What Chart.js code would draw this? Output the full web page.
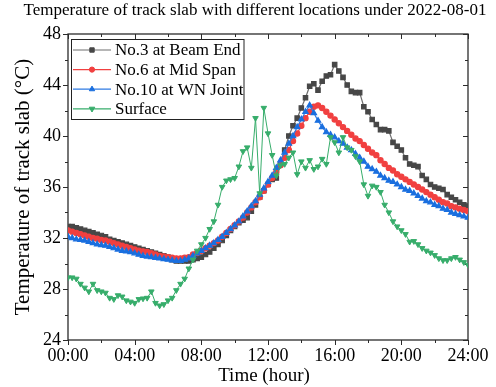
<!DOCTYPE html>
<html>
<head>
<meta charset="utf-8">
<script src="https://cdn.jsdelivr.net/npm/chart.js@4.4.1/dist/chart.umd.min.js"></script>
<style>
  html, body { margin: 0; background: #fff; }
</style>
</head>
<body>
<canvas id="slabChart" width="496" height="387"></canvas>
<script>
// sample times, hours after midnight (15 min logging interval)
const hours = [0,0.25,0.5,0.75,1,1.25,1.5,1.75,2,2.25,2.5,2.75,3,3.25,3.5,3.75,
  4,4.25,4.5,4.75,5,5.25,5.5,5.75,6,6.25,6.5,6.75,7,7.25,7.5,7.75,
  8,8.25,8.5,8.75,9,9.25,9.5,9.75,10,10.25,10.5,10.75,11,11.25,11.5,11.75,
  12,12.25,12.5,12.75,13,13.25,13.5,13.75,14,14.25,14.5,14.75,15,15.25,15.5,15.75,
  16,16.25,16.5,16.75,17,17.25,17.5,17.75,18,18.25,18.5,18.75,19,19.25,19.5,19.75,
  20,20.25,20.5,20.75,21,21.25,21.5,21.75,22,22.25,22.5,22.75,23,23.25,23.5,23.75,24];

// slab temperatures (°C)
const beamEnd = [32.9,32.9,32.8,32.7,32.6,32.5,32.4,32.3,
  32.2,32.1,31.9,31.8,31.7,31.6,31.5,31.4,
  31.3,31.2,31.1,31.0,30.9,30.8,30.7,30.6,
  30.5,30.3,30.2,30.2,30.2,30.2,30.3,30.4,
  30.5,30.7,30.9,31.2,31.5,31.8,32.2,32.6,
  32.9,33.2,33.4,33.6,34.1,34.6,35.2,35.7,
  36.2,36.6,36.7,37.8,38.9,40.0,40.8,41.4,
  42.2,43.0,43.9,44.1,43.6,44.3,44.7,44.8,
  45.6,45.1,44.6,44.0,43.5,43.4,43.4,42.3,
  41.9,41.3,40.9,40.5,40.5,40.4,39.5,39.2,
  38.9,38.3,37.8,37.7,37.6,36.9,36.6,36.2,
  36.0,35.9,35.8,35.4,35.2,35.0,34.8,34.6,
  34.5];

const midSpan = [32.6,32.5,32.4,32.3,32.2,32.1,32.0,31.95,
  31.85,31.8,31.7,31.6,31.5,31.4,31.3,31.2,
  31.1,31.0,30.95,30.9,30.8,30.7,30.6,30.55,
  30.5,30.45,30.4,30.4,30.45,30.5,30.7,30.85,
  31.0,31.2,31.4,31.6,31.8,32.1,32.4,32.7,
  33.0,33.3,33.6,34.0,34.4,34.8,35.2,35.7,
  36.2,36.7,37.2,37.7,38.3,38.9,39.6,40.2,
  40.8,41.4,41.9,42.3,42.4,42.2,41.9,41.6,
  41.3,41.0,40.7,40.4,40.1,39.8,39.6,39.3,
  39.0,38.7,38.5,38.1,37.8,37.5,37.3,37.0,
  36.8,36.6,36.4,36.2,36.0,35.8,35.6,35.4,
  35.2,35.0,34.8,34.7,34.5,34.4,34.3,34.2,
  34.1];

const wnJoint = [32.1,32.0,31.9,31.85,31.8,31.7,31.6,31.5,
  31.45,31.4,31.3,31.2,31.1,31.0,30.95,30.9,
  30.8,30.7,30.6,30.55,30.5,30.45,30.4,30.35,
  30.3,30.25,30.2,30.2,30.3,30.4,30.6,30.8,
  31.0,31.2,31.4,31.6,31.85,32.1,32.4,32.7,
  33.0,33.3,33.7,34.1,34.5,34.9,35.4,35.9,
  36.4,36.9,37.5,38.1,38.7,39.4,40.0,40.7,
  41.3,41.9,42.4,41.8,41.2,40.7,40.3,40.1,
  39.9,39.6,39.4,39.1,38.9,38.6,38.3,38.0,
  37.6,37.4,37.2,36.9,36.7,36.5,36.4,36.2,
  36.0,35.8,35.7,35.5,35.3,35.1,34.9,34.8,
  34.6,34.5,34.3,34.2,34.0,33.9,33.8,33.7,
  33.6];

const surface = [28.9,28.9,28.8,28.4,28.1,27.8,28.4,27.9,
  27.8,27.7,27.3,27.2,27.5,27.4,27.1,27.0,
  26.9,27.2,27.25,27.3,27.8,26.9,26.7,26.8,
  27.1,27.3,27.9,28.4,28.8,29.6,30.3,31.0,
  31.5,32.0,32.7,33.3,34.6,36.0,36.5,36.6,
  36.7,37.6,38.8,39.1,37.5,41.4,35.5,42.2,
  40.2,38.5,36.9,37.7,37.8,38.3,38.7,37.0,
  38.0,37.5,38.1,37.4,37.6,38.2,37.8,39.9,
  39.5,38.7,39.9,39.1,38.9,38.4,38.0,36.2,
  35.3,36.1,36.0,35.6,34.6,34.0,33.3,32.9,
  32.6,32.3,31.7,31.75,31.5,31.2,31.0,30.85,
  30.65,30.4,30.25,30.25,30.4,30.5,30.3,30.1,
  29.9];

const seriesNames = ['No.3 at Beam End', 'No.6 at Mid Span', 'No.10 at WN Joint', 'Surface'];
const xTicks = [0, 4, 8, 12, 16, 20, 24];
const yTicks = [24, 28, 32, 36, 40, 44, 48];

const FONT = "'Liberation Serif', 'Times New Roman', serif";

function toPoints(values) {
    return values.map((v, i) => ({ x: hours[i], y: v }));
}

function hhmm(v) {
    return String(v).padStart(2, '0') + ':00';
}

function tickLine(ctx, x1, y1, x2, y2) {
    ctx.beginPath();
    ctx.moveTo(x1, y1);
    ctx.lineTo(x2, y2);
    ctx.stroke();
}

// plot frame with Origin style ticks (out on left/bottom, in on top/right)
const framePlugin = {
    id: 'frame',
    beforeDatasetsDraw(chart) {
        const { ctx, chartArea: a, scales: { x, y } } = chart;
        ctx.save();
        ctx.strokeStyle = '#2b2b2b';
        ctx.lineWidth = 1.3;
        ctx.strokeRect(a.left, a.top, a.right - a.left, a.bottom - a.top);
        ctx.lineWidth = 1;
        for (let v = 0; v <= 24; v += 2) {
            const px = Math.round(x.getPixelForValue(v)) + 0.5;
            const len = xTicks.includes(v) ? 5 : 3;
            tickLine(ctx, px, a.bottom, px, a.bottom + len);
            tickLine(ctx, px, a.top, px, a.top + len);
        }
        for (let v = 24; v <= 48; v += 2) {
            const py = Math.round(y.getPixelForValue(v)) + 0.5;
            const len = yTicks.includes(v) ? 5 : 3;
            tickLine(ctx, a.left - len, py, a.left, py);
            tickLine(ctx, a.right - len, py, a.right, py);
        }
        ctx.restore();
    },
    afterDraw(chart) {
        const { ctx, chartArea: a } = chart;
        ctx.save();
        ctx.fillStyle = '#000';
        ctx.textAlign = 'center';
        ctx.textBaseline = 'alphabetic';
        ctx.font = '17px ' + FONT;
        ctx.fillText('Temperature of track slab with different locations under 2022-08-01', 255, 14.5);
        ctx.font = '19px ' + FONT;
        ctx.fillText('Time (hour)', (a.left + a.right) / 2 - 4, 381);
        ctx.font = '21px ' + FONT;
        ctx.translate(29, (a.top + a.bottom) / 2);
        ctx.rotate(-Math.PI / 2);
        ctx.fillText('Temperature of track slab (\u00B0C)', 0, 0);
        ctx.restore();
    }
};

// boxed legend in the upper left corner of the plot
const boxLegend = {
    id: 'boxLegend',
    afterDatasetsDraw(chart) {
        const ctx = chart.ctx;
        const box = { x: 71.5, y: 39.5, w: 172.5, h: 80 };
        ctx.save();
        ctx.fillStyle = '#fff';
        ctx.fillRect(box.x, box.y, box.w, box.h);
        ctx.strokeStyle = '#222';
        ctx.lineWidth = 1;
        ctx.strokeRect(box.x, box.y, box.w, box.h);
        chart.data.datasets.forEach((ds, row) => {
            const cy = 50 + row * 19.6;
            ctx.strokeStyle = ds.borderColor;
            ctx.lineWidth = 1.2;
            tickLine(ctx, 73, cy, 111, cy);
            ctx.fillStyle = ds.pointBackgroundColor;
            ctx.strokeStyle = ds.pointBorderColor;
            ctx.lineWidth = 1;
            Chart.helpers.drawPoint(ctx, {
                pointStyle: ds.pointStyle,
                radius: ds.pointRadius,
                rotation: ds.pointRotation || 0,
                borderWidth: 1
            }, 92, cy);
            ctx.fillStyle = '#000';
            ctx.font = '17px ' + FONT;
            ctx.textAlign = 'left';
            ctx.textBaseline = 'middle';
            ctx.fillText(seriesNames[row], 115, cy + 1);
        });
        ctx.restore();
    }
};

const ctxSlab = document.getElementById('slabChart');
const slabChart = new Chart(ctxSlab, {
    type: 'line',
    data: {
        datasets: [{
            label: seriesNames[0],
            data: toPoints(beamEnd),
            borderColor: '#6e6e6e',
            pointBackgroundColor: '#474747',
            pointBorderColor: '#474747',
            pointStyle: 'rect',
            pointRadius: 3.1,
            borderWidth: 1.2,
            order: 4
        }, {
            label: seriesNames[1],
            data: toPoints(midSpan),
            borderColor: '#F14040',
            pointBackgroundColor: '#F14040',
            pointBorderColor: '#F14040',
            pointStyle: 'circle',
            pointRadius: 2.6,
            borderWidth: 1.2,
            order: 3
        }, {
            label: seriesNames[2],
            data: toPoints(wnJoint),
            borderColor: '#2f7be3',
            pointBackgroundColor: '#1A6FDF',
            pointBorderColor: '#1A6FDF',
            pointStyle: 'triangle',
            pointRadius: 3.1,
            borderWidth: 1.2,
            order: 2
        }, {
            label: seriesNames[3],
            data: toPoints(surface),
            borderColor: '#37AD6B',
            pointBackgroundColor: '#37AD6B',
            pointBorderColor: '#37AD6B',
            pointStyle: 'triangle',
            pointRotation: 180,
            pointRadius: 3.2,
            borderWidth: 1,
            order: 1
        }]
    },
    options: {
        responsive: false,
        devicePixelRatio: 1,
        animation: false,
        layout: {
            padding: { top: 34, right: 28, left: 0, bottom: 0 }
        },
        plugins: {
            legend: { display: false },
            tooltip: { enabled: false },
            title: { display: false }
        },
        scales: {
            x: {
                type: 'linear',
                min: 0,
                max: 24,
                afterFit(scale) { scale.height = 47; },
                afterBuildTicks(scale) {
                    scale.ticks = xTicks.map(v => ({ value: v }));
                },
                grid: { display: false, drawTicks: false },
                border: { display: false },
                ticks: {
                    padding: 5,
                    maxRotation: 0,
                    autoSkip: false,
                    color: '#000',
                    font: { family: FONT, size: 18 },
                    callback: (v) => hhmm(v)
                }
            },
            y: {
                min: 24,
                max: 48,
                afterFit(scale) { scale.width = 68; },
                afterBuildTicks(scale) {
                    scale.ticks = yTicks.map(v => ({ value: v }));
                },
                grid: { display: false, drawTicks: false },
                border: { display: false },
                ticks: {
                    padding: 7,
                    color: '#000',
                    font: { family: FONT, size: 18 }
                }
            }
        }
    },
    plugins: [framePlugin, boxLegend]
});
</script>
</body>
</html>
